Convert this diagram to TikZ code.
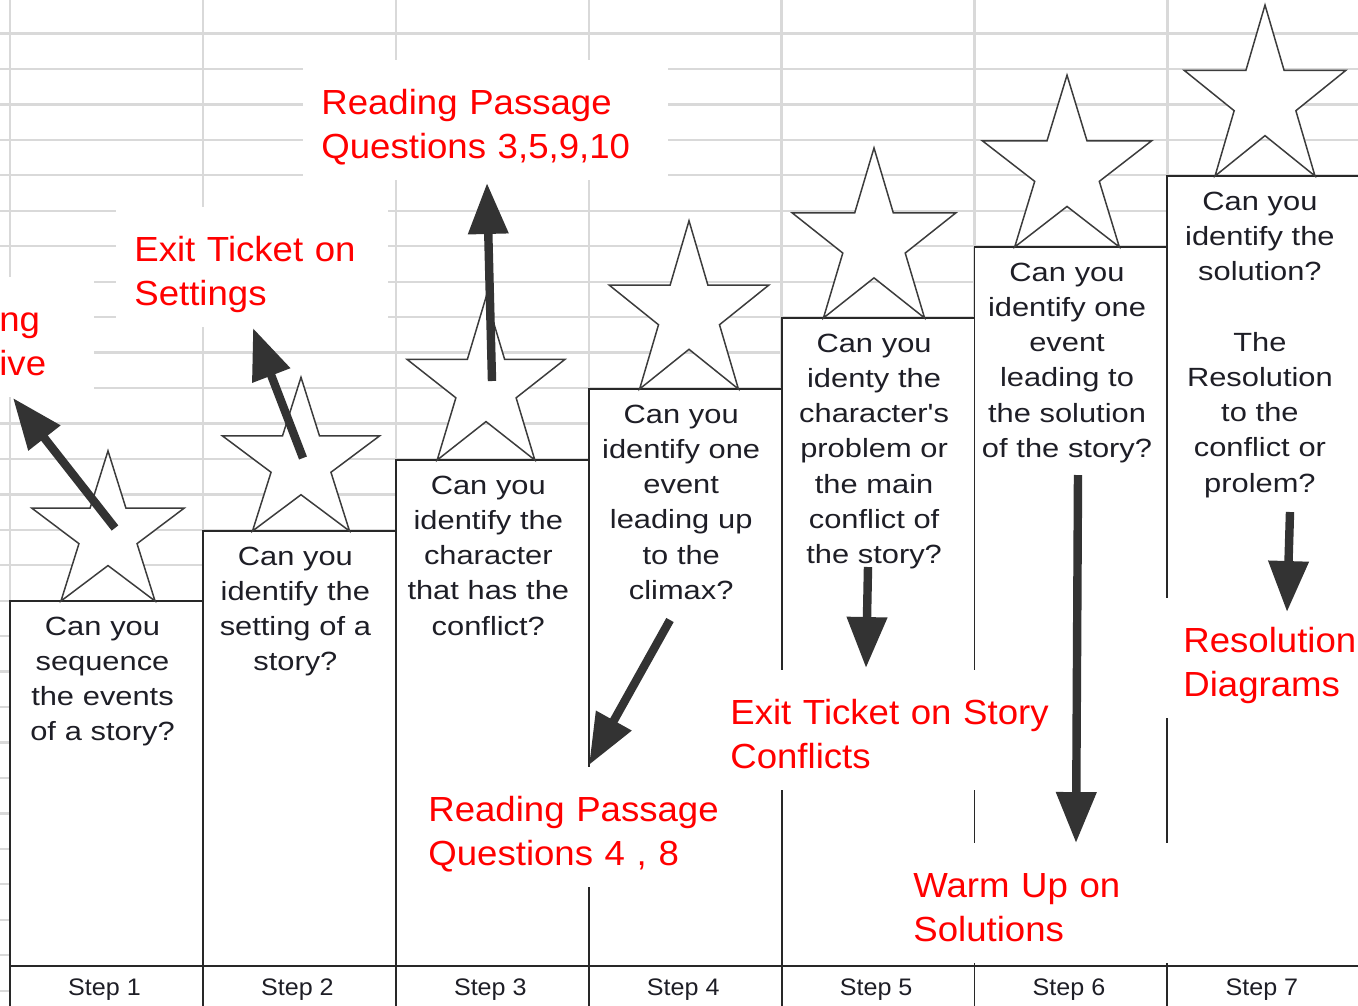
\documentclass[tikz,border=0pt]{standalone}
\usepackage{fontspec}
\setmainfont{Liberation Sans}
\newfontfamily\cellfont[FakeStretch=1.17]{Liberation Sans}
\newfontfamily\notefont[FakeStretch=1.05]{Liberation Sans}
\usetikzlibrary{arrows.meta}

% one five-pointed star: centre x, y of its two feet, x radius, y radius
\newcommand{\stepstar}[4]{%
  \draw[starline, shift={(#1,{#2-0.809*#4})}, xscale=#3, yscale=-#4]
    (0,1) -- (0.2245,0.309) -- (0.951,0.309) -- (0.363,-0.118) -- (0.588,-0.809)
    -- (0,-0.382) -- (-0.588,-0.809) -- (-0.363,-0.118) -- (-0.951,0.309)
    -- (-0.2245,0.309) -- cycle;}

\begin{document}
\begin{tikzpicture}[x=0.02cm, y=-0.02cm,
    gridline/.style={draw=gridgray, line width=1.3pt},
    cellbox/.style={draw=boxgray, fill=white, line width=1.1pt},
    starline/.style={draw=stargray, fill=white, line width=0.85pt},
    question/.style={anchor=base, inner sep=0pt, text width=3.7cm, align=center,
      text=qtext, font=\cellfont\fontsize{15pt}{20.07pt}\selectfont},
    steplabel/.style={anchor=base, inner sep=0pt, text=qtext,
      font=\notefont\fontsize{13.6pt}{16pt}\selectfont},
    note/.style={anchor=north west, fill=white, text=notered, align=left,
      inner xsep=0.36cm, inner ysep=0pt, text height=1.08cm, text depth=1.32cm,
      font=\notefont\fontsize{19.84pt}{24.94pt}\selectfont},
    flow/.style={draw=arrowgray, line width=4.8pt, -{Triangle[length=29pt, width=22pt]}}]
  % Colours of the sheet, the cells and the notes
  \definecolor{gridgray}{RGB}{217, 217, 217}
  \definecolor{boxgray}{RGB}{40, 40, 40}
  \definecolor{stargray}{RGB}{60, 60, 60}
  \definecolor{qtext}{RGB}{30, 30, 38}
  \definecolor{notered}{RGB}{255, 0, 0}
  \definecolor{arrowgray}{RGB}{51, 51, 51}

  \useasboundingbox (0,0) rectangle (1358,1005);

  % --- Spreadsheet grid ---
  \foreach \k in {0,...,27}
    \draw[gridline] (0,{33.5+35.45*\k}) -- (1358,{33.5+35.45*\k});
  \foreach \k in {0,...,7}
    \draw[gridline] ({10+192.9*\k},0) -- ({10+192.9*\k},1005);

  % --- Staircase of cells ---
  \foreach \k/\ytop in {0/601, 1/531, 2/460, 3/389, 4/318, 5/247, 6/176}
    \draw[cellbox] ({10+192.9*\k},\ytop) rectangle ({202.9+192.9*\k},1012);
  \draw[boxgray, line width=1.1pt] (10,966) -- (1362,966);

  % --- Stars on top of each step ---
  \foreach \cx/\by/\rx/\ry in {108/601/80/83, 301/531/82.5/85, 486/460/83/90,
      689/389/84/93, 874/318/86/94, 1067/247/89/95, 1265/176/85/94.5}
    \stepstar{\cx}{\by}{\rx}{\ry};

  % --- Questions ---
  \node[question] (q1) at (102.5,635) {Can you\\sequence\\the events\\of a story?};
  \node[question] (q2) at (295.4,565) {Can you\\identify the\\setting of a\\story?};
  \node[question] (q3) at (488.3,494) {Can you\\identify the\\character\\that has the\\conflict?};
  \node[question] (q4) at (681.2,423) {Can you\\identify one\\event\\leading up\\to the\\climax?};
  \node[question] (q5) at (874.1,352) {Can you\\identy the\\character's\\problem or\\the main\\conflict of\\the story?};
  \node[question] (q6) at (1067,281) {Can you\\identify one\\event\\leading to\\the solution\\of the story?};
  \node[question] (q7) at (1259.9,210) {Can you\\identify the\\solution?\\[20.07pt]The\\Resolution\\to the\\conflict or\\prolem?};

  % --- Step numbers ---
  \foreach \k in {1,...,7}
    \node[steplabel] (s\k) at ({104.5+192.9*(\k-1)},995) {Step \k};

  % --- Red notes ---
  \node[note, inner xsep=0pt, text width=1.9cm] (nar) at (-1,277) {ng\\ive};
  \node[note, text width=4.72cm] (set) at (116,207) {Exit Ticket on\\Settings};
  \node[note, text width=6.58cm] (rp1) at (303,60) {Reading Passage\\Questions 3,5,9,10};
  \node[note, text width=6.1cm] (rp2) at (410,767) {Reading Passage\\Questions 4 , 8};
  \node[note, text width=6.64cm] (con) at (712,670) {Exit Ticket on Story\\Conflicts};
  \node[note, text width=4.98cm] (sol) at (895,843) {Warm Up on\\Solutions};
  \node[note, text width=3.6cm] (res) at (1165,598) {Resolution\\Diagrams};

  % --- Arrows from the steps to the notes ---
  \coordinate (a1s) at (115,528);   \coordinate (a1e) at (13,398);
  \coordinate (a2s) at (303,458);   \coordinate (a2e) at (253,328);
  \coordinate (a3s) at (492,381);   \coordinate (a3e) at (487,183);
  \coordinate (a4s) at (670,620);   \coordinate (a4e) at (589,765);
  \coordinate (a5s) at (868,567);   \coordinate (a5e) at (866,668);
  \coordinate (a6s) at (1078,475);  \coordinate (a6e) at (1076,843);
  \coordinate (a7s) at (1290,512);  \coordinate (a7e) at (1287,612);
  \draw[flow] (a1s) -- (a1e);
  \draw[flow] (a2s) -- (a2e);
  \draw[flow] (a3s) -- (a3e);
  \draw[flow] (a4s) -- (a4e);
  \draw[flow] (a5s) -- (a5e);
  \draw[flow] (a6s) -- (a6e);
  \draw[flow] (a7s) -- (a7e);
\end{tikzpicture}
\end{document}
